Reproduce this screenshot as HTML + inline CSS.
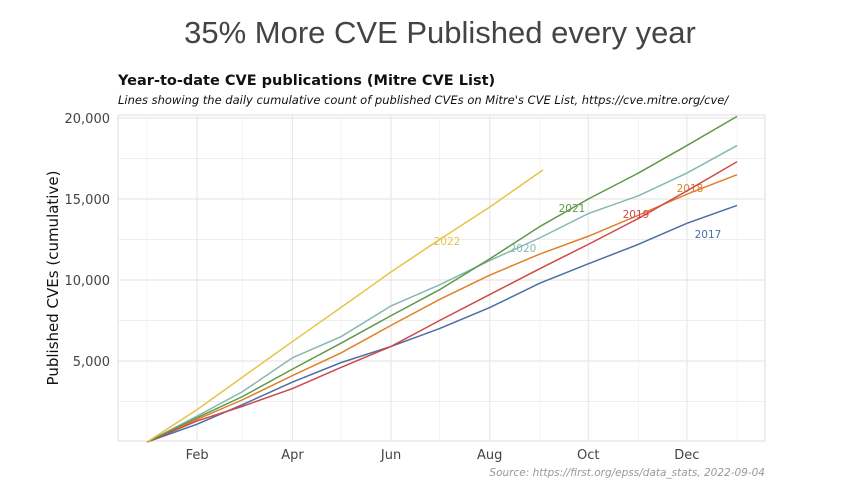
<!DOCTYPE html>
<html><head><meta charset="utf-8"><style>
body{margin:0;background:#fff;}
svg{display:block;font-family:"DejaVu Sans","Liberation Sans",sans-serif;}
</style></head><body>
<svg id="chart" width="845" height="491">
<text x="440" y="43" text-anchor="middle" font-size="31" fill="#444" font-family="Liberation Sans, sans-serif">35% More CVE Published every year</text>
<text x="118" y="85" font-size="14.5" font-weight="bold" fill="#111">Year-to-date CVE publications (Mitre CVE List)</text>
<text x="118" y="104" font-size="11.5" font-style="italic" fill="#111">Lines showing the daily cumulative count of published CVEs on Mitre's CVE List, https://cve.mitre.org/cve/</text>
<rect x="118" y="115" width="647" height="326" fill="none" stroke="#ddd"/>
<g id="grid"></g><g id="lines"></g><g id="axes"></g>
<text transform="translate(58,278) rotate(-90)" text-anchor="middle" font-size="15" fill="#111">Published CVEs (cumulative)</text>
<text x="765" y="476" text-anchor="end" font-size="10.5" font-style="italic" fill="#999">Source: https://first.org/epss/data_stats, 2022-09-04</text>
</svg>
<script>
const days=[0,31,59,90,120,151,181,212,243,273,304,334,365];
const y2017=[0,1100,2300,3700,4900,5900,7000,8300,9800,11000,12200,13500,14600];
const y2018=[0,1400,2600,4100,5500,7200,8800,10300,11600,12700,14000,15300,16500];
const y2019=[0,1300,2200,3300,4600,5900,7500,9100,10700,12200,13800,15500,17300];
const y2020=[0,1600,3100,5200,6500,8400,9700,11200,12600,14100,15200,16600,18300];
const y2021=[0,1500,2800,4500,6100,7800,9400,11300,13300,15000,16600,18300,20100];
const days2022=[0,31,59,90,120,151,181,212,245];
const y2022=[0,2000,4000,6200,8300,10500,12500,14500,16800];
const yTicks=[5000,10000,15000,20000];
const yTickLabels=["5,000","10,000","15,000","20,000"];
const xTickDays=[31,90,151,212,273,334];
const xTickLabels=["Feb","Apr","Jun","Aug","Oct","Dec"];
const xMinorDays=[0,59,120,181,243,304,365];
const NS="http://www.w3.org/2000/svg";
const X=d=>147+d*(590/365);
const Y=v=>442-v*0.0162;
function mk(t,a,p){const e=document.createElementNS(NS,t);for(const k in a)e.setAttribute(k,a[k]);p.appendChild(e);return e;}
const grid=document.getElementById('grid'),lines=document.getElementById('lines'),axes=document.getElementById('axes');
for(let v=2500;v<=20000;v+=2500){const major=v%5000===0;
const l=mk('line',{x1:118,x2:765,y1:Y(v),y2:Y(v),stroke:'#e8e8e8','stroke-width':major?1.2:0.7},grid);

}
xTickDays.forEach(d=>{const l=mk('line',{x1:X(d),x2:X(d),y1:115,y2:441,stroke:'#e8e8e8','stroke-width':1.2},grid);

});
xMinorDays.forEach(d=>{const l=mk('line',{x1:X(d),x2:X(d),y1:115,y2:441,stroke:'#f0f0f0','stroke-width':0.7},grid);

});
yTicks.forEach((v,i)=>{const t=mk('text',{x:110,y:Y(v)+5,'text-anchor':'end','font-size':13,fill:'#444'},axes);t.textContent=yTickLabels[i];

});
xTickDays.forEach((d,i)=>{const t=mk('text',{x:X(d),y:459,'text-anchor':'middle','font-size':13,fill:'#444'},axes);t.textContent=xTickLabels[i];

});
const series=[
 {n:'2017',d:days,v:y2017,c:'#4a6fa5',lx:708,ly:238},
 {n:'2018',d:days,v:y2018,c:'#e0802a',lx:690,ly:192},
 {n:'2019',d:days,v:y2019,c:'#d04848',lx:636,ly:218},
 {n:'2020',d:days,v:y2020,c:'#86b8b1',lx:523,ly:252},
 {n:'2021',d:days,v:y2021,c:'#62984a',lx:572,ly:212},
 {n:'2022',d:days2022,v:y2022,c:'#e6c445',lx:447,ly:245}];
series.forEach(s=>{
 const p=mk('polyline',{points:s.d.map((d,i)=>X(d)+','+Y(s.v[i])).join(' '),fill:'none',stroke:s.c,'stroke-width':1.5},lines);
 
 
 const t=mk('text',{x:s.lx,y:s.ly,'text-anchor':'middle','font-size':10.5,fill:s.c},lines);t.textContent=s.n;
 
 
});
</script>
</body></html>
